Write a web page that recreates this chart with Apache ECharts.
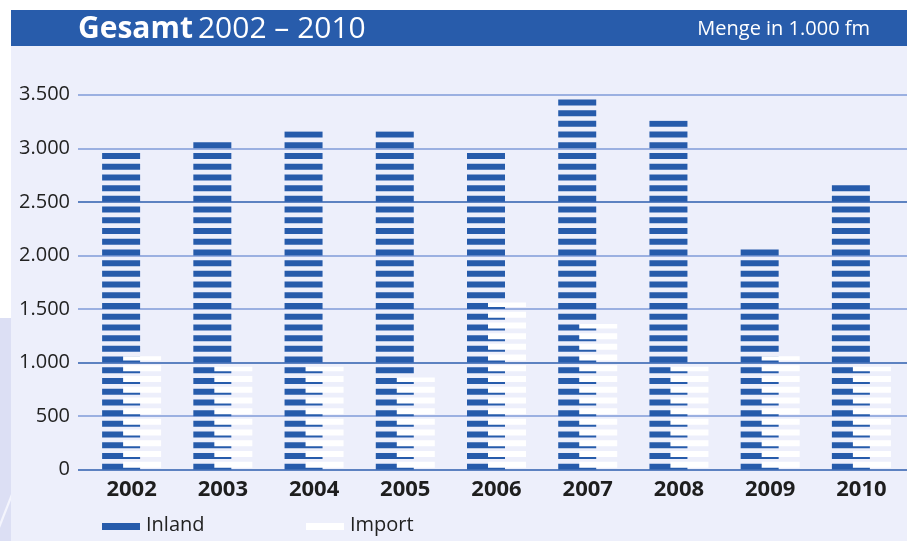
<!DOCTYPE html>
<html>
<head>
<meta charset="utf-8">
<script src="https://cdn.jsdelivr.net/npm/echarts@6/dist/echarts.min.js"></script>
<style>
  html, body { margin: 0; padding: 0; background: #ffffff; }
  #wrap { position: relative; width: 907px; height: 541px; overflow: hidden; }
  /* Hintergrundflaechen */
  .panel { position: absolute; left: 11px; top: 46px; width: 896px; height: 495px; background: #edeffb; }
  .header { position: absolute; left: 11px; top: 10px; width: 896px; height: 36px; background: #285cab; }
  .strip { position: absolute; left: 0; top: 318px; width: 11px; height: 223px; background: #dcdff4; }
  #chart { position: absolute; left: 0; top: 0; width: 907px; height: 541px; }
</style>
</head>
<body>
<div id="wrap">
  <div class="panel"></div>
  <div class="header"></div>
  <div class="strip"></div>
  <div id="chart"></div>
</div>
<script>
// Werte in 1.000 fm
const years = ['2002', '2003', '2004', '2005', '2006', '2007', '2008', '2009', '2010'];
const inland = [2960, 3060, 3160, 3160, 2960, 3460, 3260, 2060, 2660];
const importVals = [1060, 960, 960, 860, 1560, 1360, 960, 1060, 960];
const seriesNames = ['Inland', 'Import'];
const yMax = 3500;
const yStep = 500;

const blue = '#265bab';
const font = '"Open Sans", "Noto Sans", sans-serif';

const chart = echarts.init(document.getElementById('chart'), null, { renderer: 'canvas' });

// gestreifte Saeulen: je 100 Einheiten ein Streifen
const stripe = {
  type: 'pictorialBar',
  xAxisIndex: 1,
  yAxisIndex: 1,
  symbol: 'rect',
  symbolSize: [38, 6],
  symbolRepeat: 35,
  symbolBoundingData: 3456,
  symbolClip: true,
  barGap: '-100%'
};

// Legende von Hand (Pictorial-Legende waere gestreift)
const legendItems = [
  { name: seriesNames[0], x: 102, color: blue },
  { name: seriesNames[1], x: 306, color: '#ffffff' }
];
const legendGraphics = [];
legendItems.forEach(it => {
  legendGraphics.push({
    type: 'rect',
    shape: { x: it.x, y: 523, width: 38, height: 7 },
    style: { fill: it.color }
  });
  legendGraphics.push({
    type: 'text',
    x: it.x + 44,
    y: 525,
    style: {
      text: it.name,
      fontFamily: font,
      fontSize: 20,
      fill: '#222',
      verticalAlign: 'middle'
    }
  });
});
// heller Schraegstrich links unten
legendGraphics.push({
  type: 'polygon',
  shape: { points: [[11, 494], [11, 500], [0, 528], [0, 522]] },
  style: { fill: '#f4f5fd' }
});

const option = {
  backgroundColor: 'transparent',
  animation: false,
  title: [
    {
      text: '{b|Gesamt} {r|2002 – 2010}',
      left: 78,
      top: 13,
      padding: 0,
      textStyle: {
        rich: {
          b: { fontFamily: font, fontWeight: 'bold', fontSize: 30, color: '#fff', lineHeight: 32 },
          r: { fontFamily: font, fontWeight: 'normal', fontSize: 30, color: '#fff', lineHeight: 32 }
        }
      }
    },
    {
      text: 'Menge in 1.000 fm',
      right: 37,
      top: 17,
      padding: 0,
      textStyle: { fontFamily: font, fontWeight: 'normal', fontSize: 20, color: '#fff', lineHeight: 24 }
    }
  ],
  graphic: legendGraphics,
  grid: [
    { left: 78, right: 0, top: 94.7, bottom: 71.3 },
    { left: 86, right: 0, top: 94.7, bottom: 71.3 }
  ],
  xAxis: [
    { type: 'value', gridIndex: 0, show: false },
    {
      type: 'category',
      gridIndex: 1,
      data: years,
      axisLine: { show: false },
      axisTick: { show: false },
      axisLabel: { fontFamily: font, fontWeight: 'bold', fontSize: 22, color: '#1e1e1e', margin: 9 }
    }
  ],
  yAxis: [
    {
      type: 'value',
      gridIndex: 0,
      min: 0,
      max: yMax,
      interval: yStep,
      axisLine: { show: false },
      axisTick: { show: false },
      axisLabel: {
        fontFamily: font,
        fontSize: 20,
        color: '#222',
        margin: 8,
        formatter: v => v.toLocaleString('de-DE')
      },
      splitLine: {
        lineStyle: {
          width: 1.5,
          color: ['#2d5eae', '#7f9bd8', '#2d5eae', '#7f9bd8', '#7f9bd8', '#2d5eae', '#7f9bd8', '#7f9bd8']
        }
      }
    },
    { type: 'value', gridIndex: 1, min: 0, max: yMax, show: false }
  ],
  series: [
    Object.assign({}, stripe, {
      name: seriesNames[0],
      data: inland,
      symbolOffset: [-10.5, 0],
      itemStyle: { color: blue },
      z: 2
    }),
    Object.assign({}, stripe, {
      name: seriesNames[1],
      data: importVals,
      symbolOffset: [10.5, -2],
      itemStyle: { color: '#ffffff' },
      z: 3
    })
  ]
};

chart.setOption(option);
</script>
</body>
</html>
